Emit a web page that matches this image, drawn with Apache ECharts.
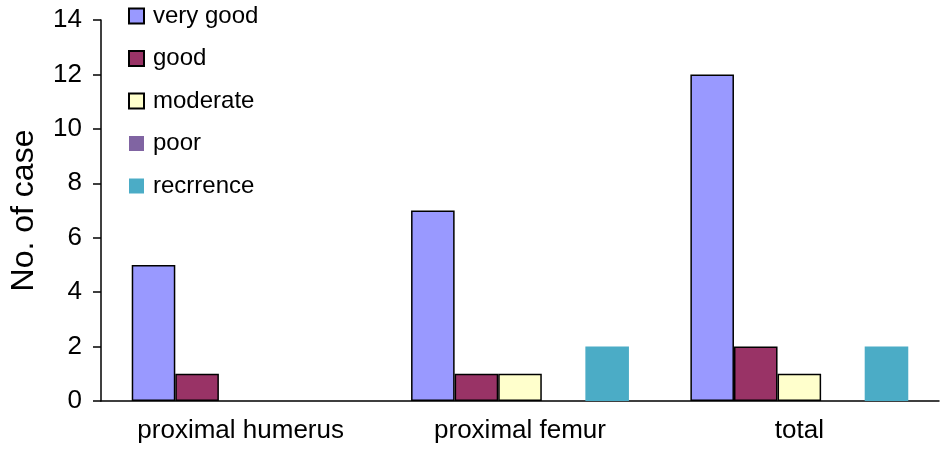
<!DOCTYPE html>
<html>
<head>
<meta charset="utf-8">
<script src="https://cdn.jsdelivr.net/npm/echarts@6/dist/echarts.min.js"></script>
<style>html,body{margin:0;padding:0;background:#fff;}#c{width:945px;height:450px;}</style>
</head>
<body>
<div id="c"></div>
<script>
var categories = ['proximal humerus', 'proximal femur', 'total'];
var seriesNames = ['very good', 'good', 'moderate', 'poor', 'recrrence'];
var veryGood = [5, 7, 12];
var good = [1, 1, 2];
var moderate = [0, 1, 1];
var poor = [0, 0, 0];
var recurrence = [0, 2, 2];
var yTicks = [0, 2, 4, 6, 8, 10, 12, 14];

var values = [veryGood, good, moderate, poor, recurrence];
var colors = ['#9999FF', '#993366', '#FFFFCC', '#8064A2', '#4BACC6'];
var bordered = [true, true, true, false, false];

var chart = echarts.init(document.getElementById('c'), null, {renderer: 'canvas'});
var font = 'Liberation Sans, Arial, sans-serif';
chart.setOption({
  animation: false,
  backgroundColor: '#fff',
  textStyle: {fontFamily: font},
  grid: {left: 96, right: 6, top: 20, bottom: 49, containLabel: false},
  legend: {
    orient: 'vertical',
    left: 123,
    top: -1,
    icon: 'rect',
    itemWidth: 15,
    itemHeight: 15,
    itemGap: 18.5,
    textStyle: {fontSize: 24, color: '#000', fontFamily: font, lineHeight: 24, padding: [0, 0, 0, 4]},
    data: seriesNames
  },
  xAxis: {
    type: 'category',
    data: categories,
    axisLine: {lineStyle: {color: '#000', width: 1.5}},
    axisTick: {show: false},
    axisLabel: {fontSize: 26, color: '#000', margin: 17, fontFamily: font}
  },
  yAxis: {
    type: 'value',
    min: yTicks[0],
    max: yTicks[yTicks.length - 1],
    interval: 2,
    name: 'No. of case',
    nameLocation: 'middle',
    nameGap: 61,
    nameRotate: 90,
    nameTextStyle: {fontSize: 32, color: '#000', fontFamily: font},
    axisLine: {show: true, lineStyle: {color: '#000', width: 1.5}},
    axisTick: {show: true, length: 8, lineStyle: {color: '#000', width: 1.5}},
    axisLabel: {fontSize: 26, color: '#000', margin: 19, fontFamily: font},
    splitLine: {show: false}
  },
  series: seriesNames.map(function (n, i) {
    return {
      name: n,
      type: 'bar',
      data: values[i].map(function (v) { return v === 0 ? '-' : v; }),
      barGap: '0%',
      barCategoryGap: '22%',
      itemStyle: {
        color: colors[i],
        borderColor: bordered[i] ? '#000' : colors[i],
        borderWidth: bordered[i] ? 1.5 : 0
      }
    };
  })
});
</script>
</body>
</html>
